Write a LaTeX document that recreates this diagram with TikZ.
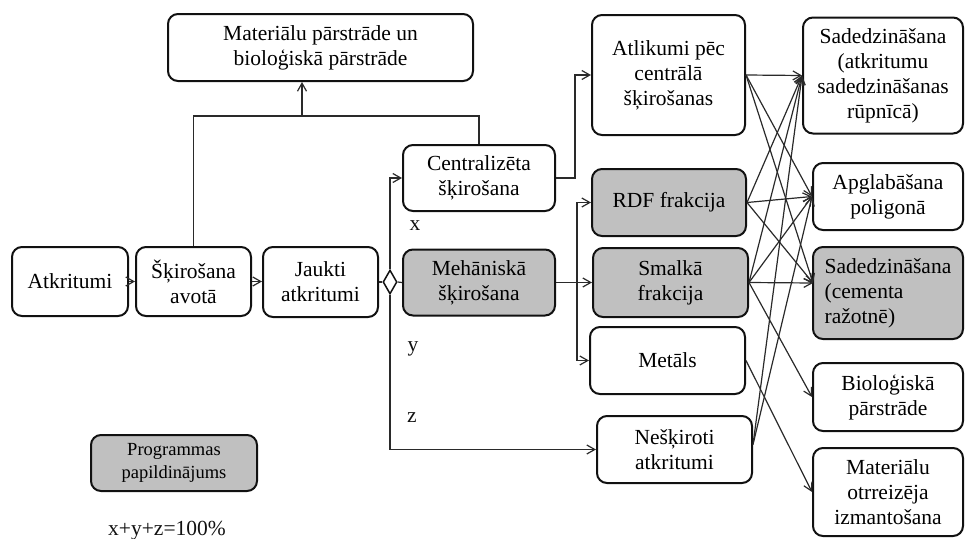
\documentclass[tikz,border=0pt]{standalone}
\usepackage{fontspec}
\setmainfont{Liberation Serif}
\usetikzlibrary{arrows.meta,shapes.geometric}
\definecolor{ink}{HTML}{111111}
\definecolor{wire}{HTML}{2A2A2A}
\definecolor{fillg}{HTML}{C0C0C0}
\tikzset{box/.style={draw=ink,line width=2pt,rounded corners=10pt,fill=white,align=center,inner sep=2pt,font=\fontsize{21.5}{25}\selectfont},
gbox/.style={box,fill=fillg},
flow/.style={-{Straight Barb[length=8pt,width=9pt]},line width=1.2pt,wire},
lnk/.style={line width=1.2pt,wire},
lab/.style={font=\fontsize{21.5}{25}\selectfont,text=ink}}

\begin{document}
\begin{tikzpicture}[x=1pt,y=-1pt]
\useasboundingbox (0,0) rectangle (965,538);
\node[box,minimum width=305pt,minimum height=67pt] (mat) at (320.5,47.5) {Materiālu pārstrāde un\\bioloģiskā pārstrāde};
\node[box,minimum width=116pt,minimum height=69pt] (atk) at (70,281.5) {Atkritumi};
\node[box,minimum width=115pt,minimum height=69pt] (avo) at (193.5,281.5) {Šķirošana\\avotā};
\node[box,minimum width=115pt,minimum height=70pt] (jau) at (320.5,282) {Jaukti\\atkritumi};
\node[diamond,draw=ink,line width=1.5pt,fill=white,minimum width=14pt,minimum height=24pt,inner sep=0pt] (dia) at (390,282) {};
\node[box,minimum width=152pt,minimum height=66pt] (cen) at (479,178) {Centralizēta\\šķirošana};
\node[gbox,minimum width=152pt,minimum height=66pt] (meh) at (479,282.5) {Mehāniskā\\šķirošana};
\node[box,minimum width=153pt,minimum height=120pt] (atl) at (668.5,75) {Atlikumi pēc\\centrālā\\šķirošanas};
\node[gbox,minimum width=154pt,minimum height=67pt] (rdf) at (669,202.5) {RDF frakcija};
\node[gbox,minimum width=155pt,minimum height=69pt] (sma) at (670.5,282.5) {Smalkā\\frakcija};
\node[box,minimum width=155pt,minimum height=67pt] (met) at (667.5,360.5) {Metāls};
\node[box,minimum width=155pt,minimum height=67pt] (nes) at (674.5,449.5) {Nešķiroti\\atkritumi};
\node[box,minimum width=160pt,minimum height=116pt] (s1) at (883,75.5) {Sadedzināšana\\(atkritumu\\sadedzināšanas\\rūpnīcā)};
\node[box,minimum width=150pt,minimum height=67pt] (apg) at (888,196.5) {Apglabāšana\\poligonā};
\node[gbox,align=left,minimum width=150pt,minimum height=92pt] (s2) at (888,293) {Sadedzināšana\\(cementa\\ražotnē)};
\node[box,minimum width=150pt,minimum height=68pt] (bio) at (888,397) {Bioloģiskā\\pārstrāde};
\node[box,minimum width=150pt,minimum height=88pt] (mot) at (888,492) {Materiālu\\otrreizēja\\izmantošana};
\node[gbox,minimum width=166pt,minimum height=56pt,font=\fontsize{18.5}{22.7}\selectfont] (leg) at (174,463) {Programmas\\papildinājums};
\node[lab,anchor=base] (sum) at (167,535) {x+y+z=100\%};
\node[lab] (lx) at (415,226) {x};
\node[lab] (ly) at (413,349) {y};
\node[lab] (lz) at (412,418) {z};

\coordinate (up) at (302,116);
\coordinate (split) at (577,282.5);
\coordinate (s2in) at (813,283);
\draw[flow] (atk) -- (avo);
\draw[flow] (avo.east) -- (avo.east -| jau.west);
\draw[lnk] (jau.east) -- (dia.west);
\draw[lnk] (dia.east) -- (meh.west);
\draw[flow] (dia.north) |- (cen.west);
\draw[flow] (dia.south) |- (nes.west);
\draw[lnk] (avo.north) |- (up) -| (cen.north);
\draw[flow] (up) -- (up |- mat.south);
\draw[flow] (cen.east) -- ++(19,0) |- (atl.west);
\draw[flow] (meh.east) -- (sma.west);
\draw[flow] (split) |- (rdf.west);
\draw[flow] (split) |- (met.west);
\foreach \t in {s1.west,apg.west,s2in}
 {\draw[flow] (atl.east) -- (\t);
  \draw[flow] (rdf.east) -- (\t);}
\foreach \t in {s1.west,apg.west,s2in,bio.west}
 {\draw[flow] (sma.east) -- (\t);}
\draw[flow] (met.east) -- (mot.west);
\foreach \t in {s1.west,apg.west}
 {\draw[flow] ([yshift=5pt]nes.east) -- (\t);}
\end{tikzpicture}
\end{document}
